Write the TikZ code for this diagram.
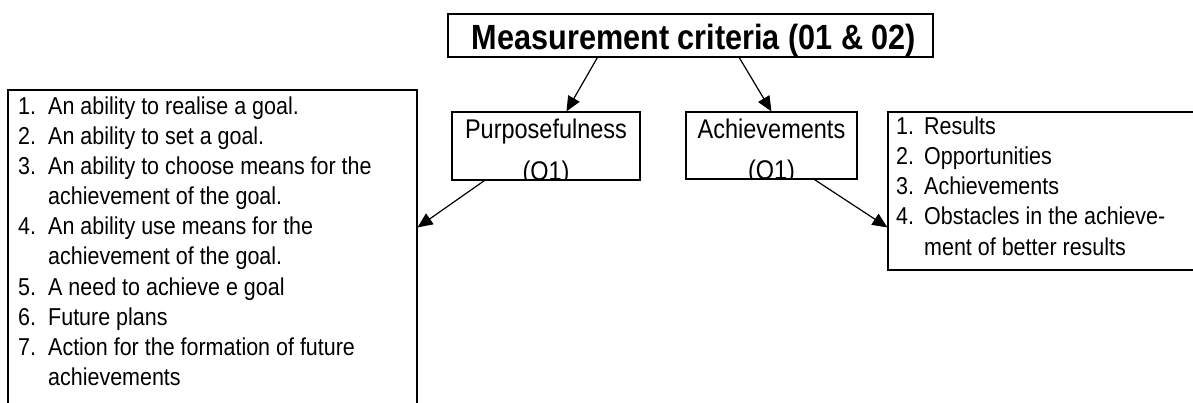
\documentclass[tikz,border=0pt]{standalone}
\usepackage{fontspec}
\setmainfont[FakeStretch=0.88]{Liberation Sans}
\newfontfamily\titlefont[FakeStretch=0.875]{Liberation Sans}
\newfontfamily\labelfont[FakeStretch=0.87]{Liberation Sans}
\usetikzlibrary{arrows.meta}

\tikzset{
  frame/.style={draw=black, line width=1.1pt, inner sep=0pt, fill=none},
  headframe/.style={draw=black, line width=1.4pt, inner sep=0pt},
  headtext/.style={inner sep=0pt, anchor=base, font=\titlefont\bfseries\fontsize{35}{40}\selectfont},
  labeltext/.style={inner sep=0pt, anchor=base, font=\labelfont\fontsize{27}{30}\selectfont},
  itemtext/.style={inner sep=0pt, anchor=base west, font=\fontsize{24.4}{30}\selectfont},
  link/.style={draw=black, line width=1.2pt, -{Triangle[length=15pt,width=13pt]}}
}

\begin{document}
\begin{tikzpicture}[x=1pt, y=-1pt]
  \useasboundingbox (0,0) rectangle (1193,403);
  \clip (0,0) rectangle (1193,403);

  % heading box
  \node[headframe, minimum width=485pt, minimum height=43pt] (title) at (690.5,35.5) {};
  \node[headtext] (titletext) at (694,49.5) {Measurement criteria (01 \& 02)};

  % two criteria boxes; the lower label line runs into the frame
  \node[frame, minimum width=188pt, minimum height=68pt] (purp) at (546,146) {};
  \node[frame, minimum width=171pt, minimum height=67pt] (achv) at (771.5,145.5) {};
  \begin{scope}
    \clip (452,112) rectangle (640,180);
    \node[labeltext] (purptop) at (546,139) {Purposefulness};
    \node[labeltext] (purpbot) at (546,181) {(O1)};
  \end{scope}
  \begin{scope}
    \clip (686,112) rectangle (857,179);
    \node[labeltext] (achvtop) at (771.5,139) {Achievements};
    \node[labeltext] (achvbot) at (771.5,180) {(O1)};
  \end{scope}
  \draw[line width=1.1pt] (purp.south west) -- (purp.south east);
  \draw[line width=1.1pt] (achv.south west) -- (achv.south east);

  % list boxes (they run past the page edge)
  \node[frame, minimum width=409pt, minimum height=340pt] (leftlist) at (212.5,260) {};
  \node[frame, minimum width=320pt, minimum height=158pt] (rightlist) at (1048,191) {};

  % left list
  \foreach \i/\txt in {
      0/An ability to realise a goal.,
      1/An ability to set a goal.,
      2/An ability to choose means for the,
      3/achievement of the goal.,
      4/An ability use means for the,
      5/achievement of the goal.,
      6/A need to achieve e goal,
      7/Future plans,
      8/Action for the formation of future,
      9/achievements}
    \node[itemtext] (lt\i) at (48,{115+30*\i}) {\txt};
  \foreach \i/\num in {0/1.,1/2.,2/3.,4/4.,6/5.,7/6.,8/7.}
    \node[itemtext] (ln\i) at (18,{115+30*\i}) {\num};

  % right list
  \foreach \i/\txt in {
      0/Results,
      1/Opportunities,
      2/Achievements,
      3/Obstacles in the achieve-,
      4/ment of better results}
    \node[itemtext] (rt\i) at (924,{135+30*\i}) {\txt};
  \foreach \i/\num in {0/1.,1/2.,2/3.,3/4.}
    \node[itemtext] (rn\i) at (896,{135+30*\i}) {\num};

  % connectors
  \draw[link] ([xshift=150pt]title.south west) -- ([xshift=115pt]purp.north west);
  \draw[link] ([xshift=292pt]title.south west) -- ([xshift=86pt]achv.north west);
  \draw[link] ([xshift=33pt]purp.south west) -- ([yshift=-138pt]leftlist.north east);
  \draw[link] ([xshift=129pt]achv.south west) -- ([yshift=-116pt]rightlist.north west);
\end{tikzpicture}
\end{document}
